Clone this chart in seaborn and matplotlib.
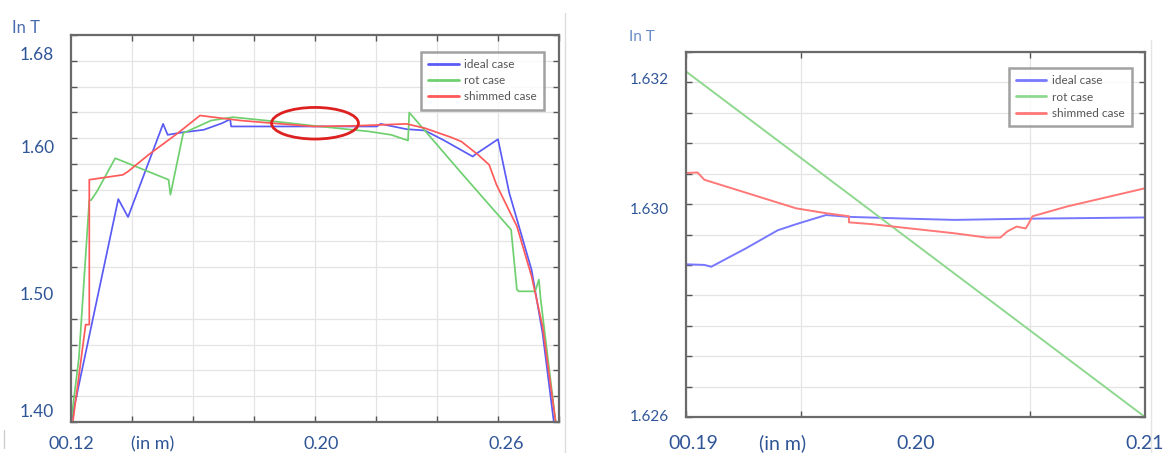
import numpy as np
import pandas as pd
import matplotlib
matplotlib.use("Agg")
import matplotlib.pyplot as plt
from matplotlib.patches import Ellipse
from matplotlib.lines import Line2D
import seaborn as sns

# ---------------- data (left: full profile) ----------------
ideal_x = [0.1200, 0.1355, 0.1387, 0.1502, 0.1517, 0.1562, 0.1635, 0.1695, 0.1722, 0.1725,
           0.2203, 0.2215, 0.2300, 0.2360, 0.2420, 0.2517, 0.2529, 0.2600, 0.2637, 0.2710,
           0.2746, 0.2783]
ideal_y = [1.400, 1.5728, 1.5589, 1.6311, 1.6226, 1.6244, 1.6265, 1.6316, 1.6347, 1.6291,
           1.6291, 1.6311, 1.6270, 1.6260, 1.6187, 1.6058, 1.6080, 1.6192, 1.5775, 1.5180,
           1.4690, 1.400]

rot_x = [0.1200, 0.1226, 0.1260, 0.1266, 0.1285, 0.1345, 0.1520, 0.1526, 0.1568, 0.1659,
         0.1731, 0.1840, 0.1997, 0.2178, 0.2250, 0.2305, 0.2309, 0.2330, 0.2480, 0.2643,
         0.2662, 0.2668, 0.2722, 0.2734, 0.2740, 0.2789]
rot_y = [1.400, 1.4500, 1.5720, 1.5720, 1.5787, 1.6045, 1.5878, 1.5762, 1.6239, 1.6337,
         1.6363, 1.6337, 1.6296, 1.6252, 1.6226, 1.6182, 1.6399, 1.6342, 1.5930, 1.5490,
         1.5026, 1.5013, 1.5013, 1.5104, 1.4950, 1.400]

shim_x = [0.1206, 0.1248, 0.1260, 0.1260, 0.1370, 0.1387, 0.1454, 0.1550, 0.1623, 0.1756,
          0.1889, 0.1997, 0.2130, 0.2300, 0.2360, 0.2445, 0.2480, 0.2535, 0.2571, 0.2595,
          0.2662, 0.2710, 0.2746, 0.2789]
shim_y = [1.400, 1.4755, 1.4755, 1.5878, 1.5916, 1.5942, 1.6071, 1.6239, 1.6376, 1.6337,
          1.6311, 1.6291, 1.6296, 1.6311, 1.6278, 1.6208, 1.6174, 1.6071, 1.5994, 1.5839,
          1.5517, 1.5130, 1.4743, 1.400]

# ---------------- data (right: zoom 0.19-0.21) ----------------
z_rot_x = [0.19, 0.21]
z_rot_y = [1.63168, 1.62600]

z_ideal_x = [0.1900, 0.1908, 0.1911, 0.1926, 0.1940, 0.1948, 0.1961, 0.1971, 0.1997, 0.2017,
             0.2049, 0.2100]
z_ideal_y = [1.62851, 1.62850, 1.62847, 1.62877, 1.62907, 1.62917, 1.62932, 1.62929, 1.62926,
             1.62924, 1.62926, 1.62928]

z_shim_x = [0.1900, 0.1905, 0.1908, 0.1948, 0.1961, 0.1971, 0.1971, 0.1981, 0.2000, 0.2017,
            0.2031, 0.2037, 0.2040, 0.2044, 0.2048, 0.2049, 0.2051, 0.2066, 0.2100]
z_shim_y = [1.63001, 1.63002, 1.62990, 1.62943, 1.62935, 1.62930, 1.62920, 1.62917, 1.62909,
            1.62902, 1.62895, 1.62895, 1.62905, 1.62913, 1.62910, 1.62916, 1.62930, 1.62946,
            1.62976]

series_names = ["ideal case", "rot case", "shimmed case"]

# tick labels (as printed on the picture) and where they sit
L_xlabels = ["00.12", "(in m)", "0.20", "0.26"]
L_xlabel_pos = [0.1200, 0.1468, 0.2019, 0.2626]
L_ylabels = ["1.40", "1.50", "1.60", "1.68"]
L_ylabel_pos = [1.4090, 1.5000, 1.6136, 1.6855]

R_xlabels = ["00.19", "(in m)", "0.20", "0.21"]
R_xlabel_pos = [0.1903, 0.1942, 0.2000, 0.2100]
R_ylabels = ["1.626", "1.630", "1.632"]
R_ylabel_pos = [1.62603, 1.62943, 1.63156]

# ---------------- styling ----------------
sns.set_style("white")
plt.rcParams["font.family"] = ["Lato", "DejaVu Sans"]

LBL = "#2f5597"
W, H = 1167, 453
fig = plt.figure(figsize=(W / 100, H / 100), dpi=100)
fig.patch.set_facecolor("white")

ax1 = fig.add_axes([71 / W, (H - 422) / H, 488 / W, 387 / H])
ax2 = fig.add_axes([686 / W, (H - 417) / H, 459 / W, 365 / H])


def style_axes(ax, xlim, ylim, xstep, ystep, xlab, xpos, ylab, ypos, xfs, yfs, xpad, ypad):
    ax.set_xlim(*xlim)
    ax.set_ylim(*ylim)
    ax.set_xticks(np.arange(xlim[0], xlim[1] + xstep / 2, xstep), minor=True)
    ax.set_yticks(np.arange(ylim[0], ylim[1] + ystep / 2, ystep), minor=True)
    ax.set_xticks(xpos, xlab)
    ax.set_yticks(ypos, ylab)
    ax.grid(False, which="major")
    ax.grid(True, which="minor", color="#e4e4e4", linewidth=0.9)
    ax.tick_params(which="major", length=0, colors=LBL)
    ax.tick_params(axis="x", which="major", labelsize=xfs, pad=xpad)
    ax.tick_params(axis="y", which="major", labelsize=yfs, pad=ypad)
    for t in ax.get_xticklabels():
        t.set_verticalalignment("baseline")
    ax.tick_params(which="minor", direction="in", length=4, width=1.0, color="#555555",
                   top=True, right=True, bottom=True, left=True)
    for sp in ax.spines.values():
        sp.set_color("#6a6a6a")
        sp.set_linewidth(1.6)
    ax.set_xlabel("")
    ax.set_ylabel("")


# left chart
cL = ["#5a5af5", "#6fd06f", "#ff5a5a"]
for xs, ys, c, n in zip([ideal_x, rot_x, shim_x], [ideal_y, rot_y, shim_y], cL, series_names):
    df = pd.DataFrame({"x": xs, "y": ys})
    sns.lineplot(data=df, x="x", y="y", sort=False, estimator=None, color=c,
                 linewidth=1.25, ax=ax1, label=n)
style_axes(ax1, (0.12, 0.28), (1.40, 1.70), 0.02, 0.02,
           L_xlabels, L_xlabel_pos, L_ylabels, L_ylabel_pos, 13, 12.5, 19.5, 12)
ax1.add_patch(Ellipse((0.2000, 1.6316), 0.0285, 0.0245, fill=False,
                      edgecolor="#dd2020", linewidth=2.0, zorder=5))

# right chart
cR = ["#7878ff", "#8fd88f", "#ff7777"]
for xs, ys, c, n in zip([z_ideal_x, z_rot_x, z_shim_x], [z_ideal_y, z_rot_y, z_shim_y],
                        cR, series_names):
    df = pd.DataFrame({"x": xs, "y": ys})
    sns.lineplot(data=df, x="x", y="y", sort=False, estimator=None, color=c,
                 linewidth=1.4, ax=ax2, label=n)
style_axes(ax2, (0.19, 0.21), (1.626, 1.632), 0.005, 0.0005,
           R_xlabels, R_xlabel_pos, R_ylabels, R_ylabel_pos, 14, 11, 23, 12)

for ax, anchor in [(ax1, (0.982, 0.972)), (ax2, (0.985, 0.972))]:
    leg = ax.legend(loc="upper right", bbox_to_anchor=anchor, fontsize=8.5,
                    frameon=True, fancybox=False, handlelength=2.6, handletextpad=0.5,
                    labelspacing=0.45, borderpad=0.6, labelcolor="#555555")
    leg.get_frame().set_edgecolor("#8a8a8a")
    leg.get_frame().set_linewidth(1.8)
    for h in leg.get_lines():
        h.set_linewidth(2.0)

# axis unit captions
fig.text(12 / W, 1 - 28 / H, "In T", fontsize=12, color="#4a6db0", ha="left", va="center")
fig.text(629 / W, 1 - 37 / H, "In T", fontsize=11, color="#6b8cc8", ha="left", va="center")

# faint screenshot borders
fig.add_artist(Line2D([565 / W, 565 / W], [0, 1 - 13 / H], transform=fig.transFigure,
                      color="#dcdcdc", linewidth=1.0))
fig.add_artist(Line2D([1151 / W, 1151 / W], [0, 1 - 40 / H], transform=fig.transFigure,
                      color="#e4e4e4", linewidth=1.0))
fig.add_artist(Line2D([4 / W, 4 / W], [0.01, 1 - 430 / H], transform=fig.transFigure,
                      color="#cccccc", linewidth=1.0))

fig.savefig("out.png", dpi=100, facecolor="white")
